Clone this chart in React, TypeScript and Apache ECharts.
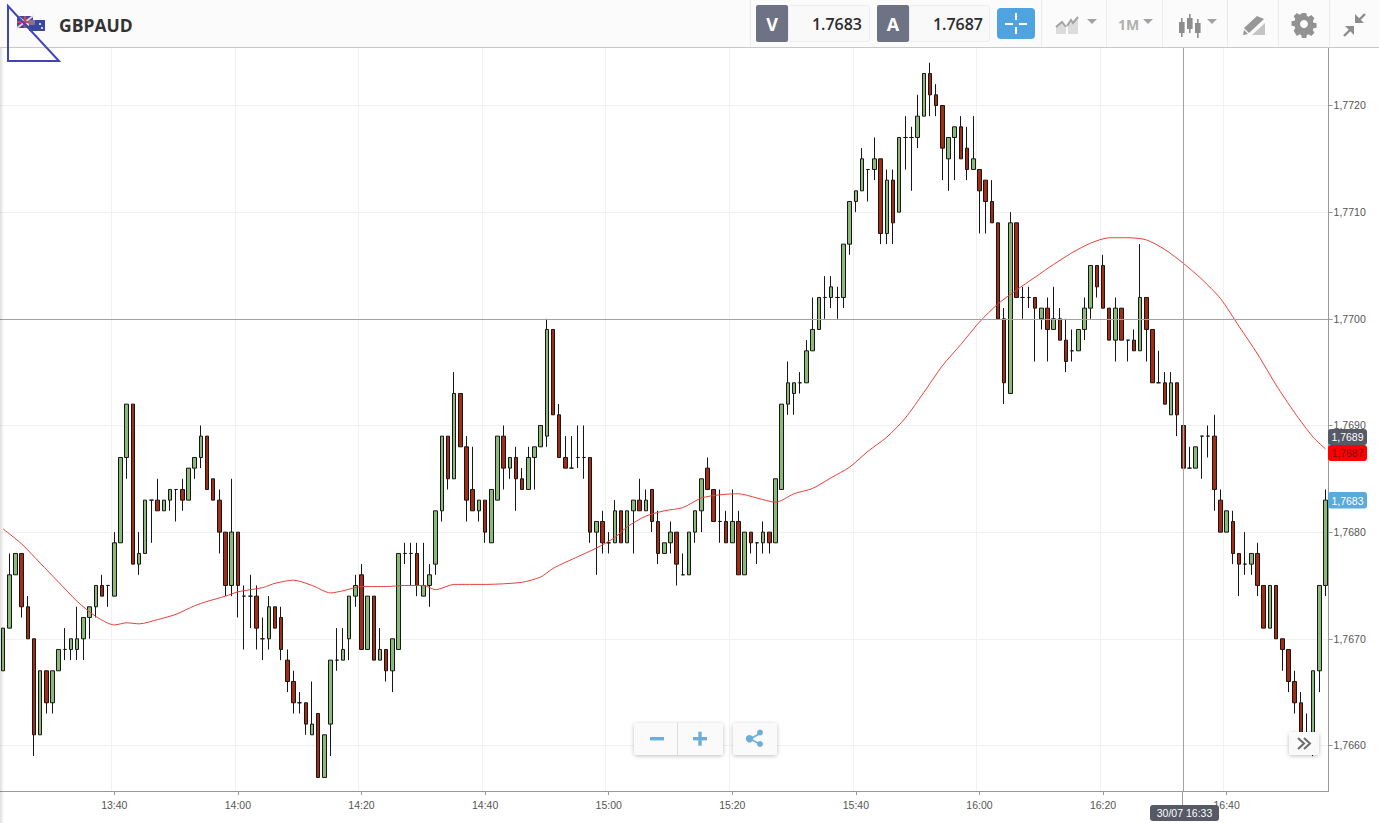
import React, { useEffect, useRef } from "react";
import * as echarts from "echarts";

// First candle of the window is 13:22; one candle a minute.
const firstMinute = 13 * 60 + 22;
const candleCount = 215;
const times: string[] = Array.from({ length: candleCount }, (_, i) => {
  const m = firstMinute + i;
  return `${Math.floor(m / 60)}:${String(m % 60).padStart(2, "0")}`;
});

// [open, close, low, high]
const ohlc: number[][] = [
  [1.7667,1.7671,1.7667,1.7671],[1.7671,1.7676,1.7671,1.7678],[1.7676,1.7678,1.7676,1.7678],[1.7678,1.7673,1.7672,1.7678],[1.7673,1.7670,1.7670,1.7674],
  [1.7670,1.7661,1.7659,1.7670],[1.7661,1.7667,1.7661,1.7667],[1.7667,1.7664,1.7663,1.7667],[1.7664,1.7667,1.7663,1.7667],[1.7667,1.7669,1.7667,1.7669],
  [1.7669,1.7669,1.7668,1.7671],[1.7669,1.7670,1.7668,1.7670],[1.7669,1.7670,1.7668,1.7673],[1.7670,1.7672,1.7668,1.7672],[1.7672,1.7673,1.7670,1.7673],
  [1.7673,1.7675,1.7672,1.7675],[1.7675,1.7674,1.7674,1.7676],[1.7675,1.7675,1.7673,1.7675],[1.7674,1.7679,1.7674,1.7680],[1.7679,1.7687,1.7679,1.7687],
  [1.7687,1.7692,1.7685,1.7692],[1.7692,1.7677,1.7677,1.7692],[1.7677,1.7678,1.7676,1.7680],[1.7678,1.7683,1.7678,1.7683],[1.7683,1.7683,1.7679,1.7683],
  [1.7683,1.7682,1.7682,1.7685],[1.7682,1.7683,1.7682,1.7683],[1.7683,1.7684,1.7682,1.7684],[1.7684,1.7684,1.7681,1.7684],[1.7684,1.7683,1.7682,1.7685],
  [1.7683,1.7686,1.7683,1.7686],[1.7686,1.7687,1.7685,1.7687],[1.7687,1.7689,1.7686,1.7690],[1.7689,1.7684,1.7684,1.7689],[1.7685,1.7683,1.7683,1.7685],
  [1.7683,1.7680,1.7678,1.7684],[1.7680,1.7675,1.7674,1.7680],[1.7675,1.7680,1.7674,1.7685],[1.7680,1.7675,1.7672,1.7680],[1.7674,1.7674,1.7669,1.7675],
  [1.7674,1.7674,1.7671,1.7676],[1.7674,1.7671,1.7669,1.7675],[1.7670,1.7670,1.7668,1.7672],[1.7670,1.7673,1.7669,1.7674],[1.7673,1.7671,1.7671,1.7673],
  [1.7672,1.7669,1.7668,1.7673],[1.7668,1.7666,1.7665,1.7669],[1.7666,1.7664,1.7663,1.7667],[1.7664,1.7664,1.7663,1.7665],[1.7664,1.7662,1.7661,1.7664],
  [1.7661,1.7662,1.7661,1.7666],[1.7663,1.7657,1.7657,1.7663],[1.7657,1.7661,1.7657,1.7661],[1.7662,1.7668,1.7659,1.7668],[1.7668,1.7668,1.7667,1.7671],
  [1.7668,1.7669,1.7668,1.7671],[1.7670,1.7674,1.7668,1.7674],[1.7674,1.7675,1.7673,1.7676],[1.7676,1.7669,1.7669,1.7677],[1.7669,1.7674,1.7669,1.7674],
  [1.7674,1.7668,1.7668,1.7674],[1.7668,1.7669,1.7668,1.7671],[1.7669,1.7667,1.7666,1.7669],[1.7667,1.7670,1.7665,1.7670],[1.7669,1.7678,1.7669,1.7678],
  [1.7678,1.7678,1.7677,1.7679],[1.7678,1.7678,1.7675,1.7679],[1.7678,1.7675,1.7674,1.7679],[1.7674,1.7675,1.7674,1.7679],[1.7675,1.7676,1.7673,1.7677],
  [1.7677,1.7682,1.7676,1.7682],[1.7682,1.7689,1.7681,1.7689],[1.7689,1.7685,1.7684,1.7689],[1.7685,1.7693,1.7685,1.7695],[1.7693,1.7688,1.7688,1.7693],
  [1.7688,1.7683,1.7681,1.7689],[1.7684,1.7682,1.7682,1.7688],[1.7682,1.7683,1.7681,1.7683],[1.7683,1.7680,1.7679,1.7683],[1.7679,1.7684,1.7679,1.7684],
  [1.7683,1.7689,1.7683,1.7689],[1.7689,1.7686,1.7684,1.7690],[1.7686,1.7687,1.7685,1.7687],[1.7687,1.7685,1.7682,1.7688],[1.7685,1.7684,1.7684,1.7686],
  [1.7684,1.7687,1.7684,1.7688],[1.7687,1.7688,1.7684,1.7688],[1.7688,1.7690,1.7688,1.7690],[1.7689,1.7699,1.7688,1.7700],[1.7699,1.7691,1.7691,1.7699],
  [1.7691,1.7687,1.7687,1.7692],[1.7687,1.7686,1.7686,1.7689],[1.7686,1.7686,1.7686,1.7689],[1.7687,1.7687,1.7686,1.7690],[1.7687,1.7687,1.7685,1.7690],
  [1.7687,1.7680,1.7679,1.7687],[1.7680,1.7681,1.7676,1.7681],[1.7681,1.7679,1.7678,1.7682],[1.7679,1.7679,1.7678,1.7680],[1.7679,1.7682,1.7679,1.7683],
  [1.7682,1.7679,1.7679,1.7682],[1.7679,1.7682,1.7679,1.7682],[1.7682,1.7683,1.7678,1.7683],[1.7683,1.7682,1.7682,1.7685],[1.7682,1.7683,1.7682,1.7684],
  [1.7684,1.7681,1.7680,1.7684],[1.7681,1.7678,1.7677,1.7682],[1.7678,1.7679,1.7678,1.7679],[1.7679,1.7680,1.7678,1.7681],[1.7680,1.7677,1.7675,1.7680],
  [1.7676,1.7676,1.7676,1.7678],[1.7676,1.7680,1.7676,1.7680],[1.7680,1.7682,1.7679,1.7682],[1.7682,1.7685,1.7680,1.7685],[1.7686,1.7684,1.7684,1.7687],
  [1.7684,1.7681,1.7681,1.7684],[1.7681,1.7681,1.7679,1.7684],[1.7681,1.7679,1.7679,1.7682],[1.7679,1.7681,1.7679,1.7684],[1.7681,1.7676,1.7676,1.7682],
  [1.7676,1.7680,1.7676,1.7680],[1.7680,1.7679,1.7678,1.7680],[1.7679,1.7679,1.7677,1.7679],[1.7679,1.7680,1.7678,1.7681],[1.7680,1.7679,1.7678,1.7680],
  [1.7679,1.7685,1.7679,1.7685],[1.7684,1.7692,1.7684,1.7692],[1.7692,1.7694,1.7691,1.7696],[1.7693,1.7694,1.7691,1.7694],[1.7694,1.7694,1.7693,1.7695],
  [1.7694,1.7697,1.7694,1.7698],[1.7697,1.7699,1.7697,1.7702],[1.7699,1.7702,1.7699,1.7702],[1.7702,1.7702,1.7700,1.7704],[1.7702,1.7703,1.7701,1.7704],
  [1.7702,1.7702,1.7700,1.7703],[1.7702,1.7707,1.7701,1.7707],[1.7707,1.7711,1.7706,1.7711],[1.7711,1.7712,1.7710,1.7712],[1.7712,1.7715,1.7712,1.7716],
  [1.7714,1.7714,1.7711,1.7714],[1.7714,1.7715,1.7713,1.7717],[1.7715,1.7708,1.7707,1.7715],[1.7708,1.7713,1.7707,1.7714],[1.7713,1.7709,1.7707,1.7714],
  [1.7710,1.7717,1.7710,1.7717],[1.7717,1.7717,1.7714,1.7719],[1.7717,1.7717,1.7712,1.7718],[1.7717,1.7719,1.7716,1.7721],[1.7719,1.7723,1.7719,1.7723],
  [1.7723,1.7721,1.7719,1.7724],[1.7721,1.7720,1.7719,1.7722],[1.7720,1.7716,1.7713,1.7720],[1.7715,1.7717,1.7712,1.7717],[1.7717,1.7718,1.7713,1.7718],
  [1.7718,1.7715,1.7715,1.7719],[1.7716,1.7714,1.7713,1.7718],[1.7714,1.7715,1.7714,1.7719],[1.7714,1.7712,1.7708,1.7714],[1.7713,1.7711,1.7708,1.7713],
  [1.7711,1.7709,1.7709,1.7713],[1.7709,1.7700,1.7700,1.7709],[1.7700,1.7694,1.7692,1.7701],[1.7693,1.7709,1.7693,1.7710],[1.7709,1.7702,1.7702,1.7709],
  [1.7702,1.7702,1.7700,1.7703],[1.7702,1.7702,1.7701,1.7703],[1.7702,1.7701,1.7696,1.7702],[1.7700,1.7701,1.7699,1.7701],[1.7701,1.7699,1.7696,1.7702],
  [1.7699,1.7700,1.7699,1.7703],[1.7700,1.7698,1.7698,1.7701],[1.7698,1.7696,1.7695,1.7700],[1.7697,1.7697,1.7696,1.7699],[1.7697,1.7699,1.7697,1.7699],
  [1.7699,1.7701,1.7698,1.7702],[1.7701,1.7705,1.7700,1.7705],[1.7705,1.7703,1.7702,1.7705],[1.7705,1.7701,1.7701,1.7706],[1.7701,1.7698,1.7698,1.7701],
  [1.7698,1.7701,1.7696,1.7702],[1.7701,1.7698,1.7698,1.7701],[1.7698,1.7698,1.7696,1.7698],[1.7698,1.7697,1.7697,1.7699],[1.7697,1.7702,1.7697,1.7707],
  [1.7702,1.7699,1.7696,1.7702],[1.7699,1.7694,1.7694,1.7699],[1.7694,1.7694,1.7694,1.7697],[1.7694,1.7692,1.7692,1.7695],[1.7691,1.7694,1.7691,1.7695],
  [1.7694,1.7691,1.7689,1.7694],[1.7690,1.7686,1.7685,1.7691],[1.7686,1.7686,1.7686,1.7688],[1.7686,1.7688,1.7686,1.7688],[1.7689,1.7689,1.7685,1.7689],
  [1.7689,1.7689,1.7687,1.7690],[1.7689,1.7684,1.7682,1.7691],[1.7683,1.7680,1.7680,1.7684],[1.7680,1.7682,1.7680,1.7682],[1.7681,1.7678,1.7677,1.7682],
  [1.7678,1.7677,1.7674,1.7678],[1.7677,1.7677,1.7676,1.7680],[1.7677,1.7678,1.7676,1.7678],[1.7678,1.7675,1.7674,1.7679],[1.7675,1.7671,1.7671,1.7675],
  [1.7671,1.7675,1.7671,1.7675],[1.7675,1.7670,1.7670,1.7675],[1.7670,1.7669,1.7667,1.7670],[1.7669,1.7666,1.7665,1.7669],[1.7666,1.7664,1.7663,1.7667],
  [1.7664,1.7661,1.7661,1.7665],[1.7661,1.7661,1.7660,1.7663],[1.7661,1.7667,1.7659,1.7667],[1.7667,1.7675,1.7665,1.7675],[1.7675,1.7683,1.7674,1.7684],
];

// Moving average: [candle index, price].
const movingAverage: number[][] = [
  [0,1.76803],[3,1.76789],[6,1.76771],[9,1.76753],[12,1.76735],[15,1.76721],[18,1.76713],[20,1.76715],[22,1.76714],
  [25,1.76718],[28,1.76723],[31,1.76731],[33,1.76735],[36,1.76740],[38,1.76744],[42,1.76748],[44,1.76752],[47,1.76755],
  [50,1.76750],[53,1.76743],[55,1.76745],[58,1.76749],[62,1.76749],[65,1.76750],[68,1.76750],[70,1.76746],[73,1.76751],
  [78,1.76751],[84,1.76753],[87,1.76758],[89,1.76766],[93,1.76777],[96,1.76785],[99,1.76795],[101,1.76805],[104,1.76815],
  [107,1.76820],[110,1.76823],[113,1.76832],[116,1.76835],[119,1.76836],[122,1.76832],[125,1.76828],[128,1.76836],[131,1.76841],
  [134,1.76851],[137,1.76861],[140,1.76876],[143,1.76889],[146,1.76907],[149,1.76931],[152,1.76956],[155,1.76976],[158,1.76997],
  [161,1.77014],[164,1.77027],[167,1.77039],[170,1.77051],[173,1.77062],[176,1.77071],[179,1.77076],[182,1.77076],[185,1.77074],
  [188,1.77065],[191,1.77052],[194,1.77037],[197,1.77019],[200,1.76993],[203,1.76967],[206,1.76938],[209,1.76912],[212,1.76889],[214,1.76878],
];

const priceTicks = [1.766, 1.767, 1.768, 1.769, 1.77, 1.771, 1.772];
const crosshairTime = "16:33";
const crosshairPrice = 1.7689;
const crosshairDate = "30/07 16:33";
const instrument = "GBPAUD";
const bidLabel = "V";
const askLabel = "A";
const bidPrice = "1.7683";
const askPrice = "1.7687";
const frameLabel = "1M";
const tagCross = "1,7689";
const tagMa = "1,7687";
const tagLast = "1,7683";

const isLabelMinute = (i: number) => (firstMinute + i) % 20 === 0;
const FONT = '"Liberation Sans", Arial, sans-serif';
const OPEN = '"Open Sans", sans-serif';
const Z = 100;
const ICON = "#a3a3a3";

echarts.graphic.registerShape(
  "gearIcon",
  echarts.graphic.extendPath(
    "M9.6 0h4.8l.7 3.3 1.9.8 2.9-1.8 3.4 3.4-1.8 2.9.8 1.9 3.3.7v4.8l-3.3.7-.8 1.9 1.8 2.9-3.4 3.4-2.9-1.8-1.9.8-.7 3.3H9.6l-.7-3.3-1.9-.8-2.9 1.8L.7 19.3l1.8-2.9-.8-1.9-3.3-.7V9l3.3-.7.8-1.9L.7 3.5 4.1.1 7 1.9l1.9-.8z",
    {}
  )
);

function rect(x: number, y: number, w: number, h: number, fill: string, extra: any = {}) {
  const { r, stroke, lineWidth, ...style } = extra;
  return {
    type: "rect", z: Z, silent: true,
    shape: { x, y, width: w, height: h, r: r || 0 },
    style: { fill, stroke, lineWidth, ...style },
  };
}
function poly(points: number[][], fill: string) {
  return { type: "polygon", z: Z, silent: true, shape: { points }, style: { fill } };
}
function pline(points: number[][], stroke: string, lineWidth = 1) {
  return { type: "polyline", z: Z, silent: true, shape: { points }, style: { stroke, lineWidth, fill: "none" } };
}
function txt(x: number, y: number, text: string, fill: string, fontSize: number, extra: any = {}) {
  return {
    type: "text", z: Z + 1, silent: true, x, y,
    style: { text, fill, fontSize, fontFamily: FONT, align: "center", verticalAlign: "middle", ...extra },
  };
}

function overlays() {
  const g: any[] = [];
  // soft shadow down the left edge
  g.push(rect(0, 0, 4, 823, "none", {
    fill: { type: "linear", x: 0, y: 0, x2: 1, y2: 0, colorStops: [{ offset: 0, color: "rgba(0,0,0,0.13)" }, { offset: 1, color: "rgba(0,0,0,0)" }] },
  }));
  // toolbar
  g.push(rect(0, 0, 1379, 47.5, "#fbfbfb"));
  g.push(pline([[0, 47.5], [1379, 47.5]], "#c9c9c9"));
  for (const x of [750.5, 1041.5, 1106.5, 1162.5, 1227.5, 1278.5, 1329.5]) {
    g.push(pline([[x, 0], [x, 47]], "#ececec"));
  }
  // flags
  g.push(rect(17, 16, 16, 12, "#3b4a94"));
  g.push(pline([[17, 16], [33, 28]], "#e8d0d8", 2));
  g.push(pline([[33, 16], [17, 28]], "#e8d0d8", 2));
  g.push(pline([[25, 16], [25, 28]], "#c9455a", 2.5));
  g.push(pline([[17, 22], [33, 22]], "#c9455a", 2));
  g.push(rect(29, 20, 16, 11, "#38499c"));
  g.push(rect(29, 20, 6, 5, "#8f6f90"));
  g.push(rect(39, 23, 2, 2, "#cfd4ee"));
  g.push(rect(41, 27, 2, 2, "#cfd4ee"));
  g.push(txt(59, 24.5, instrument, "#333333", 17.5, { fontFamily: OPEN, fontWeight: 700, align: "left" }));
  // hand drawn triangle
  g.push({ type: "polygon", z: Z + 2, silent: true, shape: { points: [[8, 6], [8, 61], [59, 61]] }, style: { fill: "none", stroke: "#3f46b4", lineWidth: 2 } });

  // bid / ask boxes
  g.push(rect(788.5, 5.5, 81, 36, "#f9f9f9", { stroke: "#eeeeee", lineWidth: 1, r: 2 }));
  g.push(rect(756, 5, 32, 37, "#6e7285", { r: 2 }));
  g.push(txt(772, 24, bidLabel, "#ffffff", 18, { fontFamily: OPEN, fontWeight: 700 }));
  g.push(txt(862, 24, bidPrice, "#2b2b2b", 16, { fontFamily: OPEN, fontWeight: 600, align: "right" }));
  g.push(rect(909.5, 5.5, 80, 36, "#f9f9f9", { stroke: "#eeeeee", lineWidth: 1, r: 2 }));
  g.push(rect(877, 5, 32, 37, "#6e7285", { r: 2 }));
  g.push(txt(893, 24, askLabel, "#ffffff", 18, { fontFamily: OPEN, fontWeight: 700 }));
  g.push(txt(983, 24, askPrice, "#2b2b2b", 16, { fontFamily: OPEN, fontWeight: 600, align: "right" }));
  // crosshair button
  g.push(rect(997, 8, 38, 31, "#4ea3e0", { r: 4 }));
  g.push(rect(1015, 13, 2, 7, "#ffffff"));
  g.push(rect(1015, 27, 2, 7, "#ffffff"));
  g.push(rect(1005, 23, 8, 2, "#ffffff"));
  g.push(rect(1019, 23, 8, 2, "#ffffff"));
  // chart type icon
  g.push(poly([[1056, 34], [1056, 27], [1062, 23], [1066, 28], [1066, 34]], "#dcdcdc"));
  g.push(poly([[1068, 34], [1068, 24], [1078, 19], [1078, 34]], "#dcdcdc"));
  g.push(pline([[1056, 27], [1062, 22], [1066, 27]], ICON, 2));
  g.push(pline([[1067, 26], [1071, 20], [1073, 23], [1078, 17]], ICON, 2));
  g.push(poly([[1087, 19], [1097, 19], [1092, 24]], ICON));
  g.push(txt(1118, 24, frameLabel, "#b0b0b0", 14, { fontFamily: OPEN, fontWeight: 700, align: "left" }));
  g.push(poly([[1143, 19], [1153, 19], [1148, 24]], ICON));
  // candle icon
  for (const [x, y1, y2, b1, b2] of [[1181, 18, 37, 22, 33], [1189, 14, 33, 18, 29], [1197, 19, 38, 23, 33]]) {
    g.push(rect(x, y1, 1.6, y2 - y1, "#8d8d8d"));
    g.push(rect(x - 2, b1, 5.6, b2 - b1, "#8d8d8d"));
  }
  g.push(poly([[1207, 19], [1217, 19], [1212, 24]], ICON));
  // pencil icon
  g.push(poly([[1244, 28], [1257, 16], [1264, 19], [1249, 33]], "#979797"));
  g.push(poly([[1244, 30], [1248, 34], [1243, 35]], "#979797"));
  g.push(poly([[1252, 35], [1265, 23], [1265, 35]], "#c4c4c4"));
  // gear
  g.push({ type: "gearIcon", z: Z, silent: true, x: 1293, y: 13, scaleX: 0.92, scaleY: 0.92, style: { fill: "#929292" } });
  g.push({ type: "circle", z: Z + 1, silent: true, shape: { cx: 1304, cy: 24, r: 4 }, style: { fill: "#fbfbfb" } });
  // compress icon
  g.push(pline([[1344, 36], [1351, 29]], "#8d8d8d", 2.4));
  g.push(poly([[1345, 26], [1354, 26], [1354, 35]], "#8d8d8d"));
  g.push(pline([[1365, 14], [1358, 21]], "#8d8d8d", 2.4));
  g.push(poly([[1355, 14], [1355, 23], [1364, 23]], "#8d8d8d"));

  // zoom and share buttons
  const shadow = { shadowBlur: 4, shadowColor: "rgba(0,0,0,0.25)", shadowOffsetY: 1 };
  g.push(rect(634, 723, 89, 32, "#fafafa", { r: 3, ...shadow }));
  g.push(pline([[677.5, 723], [677.5, 755]], "#dddddd"));
  g.push(rect(650, 737, 14, 3.4, "#6caed8"));
  g.push(rect(693, 737, 14, 3.4, "#6caed8"));
  g.push(rect(698.3, 731.7, 3.4, 14, "#6caed8"));
  g.push(rect(733, 723, 44, 32, "#fafafa", { r: 3, ...shadow }));
  g.push(pline([[750, 739], [760, 733.5]], "#6caed8", 1.8));
  g.push(pline([[750, 739], [760, 744]], "#6caed8", 1.8));
  for (const [cx, cy, r] of [[749.5, 738.7, 3.7], [760, 732.5, 3], [760, 744, 3]]) {
    g.push({ type: "circle", z: Z, silent: true, shape: { cx, cy, r }, style: { fill: "#6caed8" } });
  }
  // expand button
  g.push(rect(1289, 732, 30, 23, "#fafafa", { r: 3, ...shadow }));
  g.push(pline([[1298, 738], [1304, 743.5], [1298, 749]], "#6b6b6b", 2));
  g.push(pline([[1304, 738], [1310, 743.5], [1304, 749]], "#6b6b6b", 2));

  // price tags
  g.push(rect(1328, 429, 39, 16, "#555a66", { r: 3 }));
  g.push(txt(1347.5, 437.3, tagCross, "#ffffff", 10.5));
  g.push(rect(1328, 445, 39, 16, "#ff0000", { r: 3 }));
  g.push(txt(1347.5, 453.3, tagMa, "#7a1010", 10.5));
  g.push(rect(1328, 492, 39, 16.5, "#5aaadc", { r: 3 }));
  g.push(txt(1347.5, 500.5, tagLast, "#ffffff", 10.5));
  // crosshair date tag
  g.push(pline([[1182.5, 791], [1182.5, 805]], "#999999"));
  g.push(rect(1150, 805, 69, 16, "#555a66", { r: 3 }));
  g.push(txt(1184.5, 813.3, crosshairDate, "#ffffff", 10.5));
  return g;
}

export default function App() {
  const ref = useRef<HTMLDivElement>(null);
  useEffect(() => {
    document.body.style.margin = "0";
    document.documentElement.style.overflow = "hidden";
    const chart = echarts.init(ref.current!, undefined, { renderer: "svg" });
    const grid = { left: -5, top: 48, width: 1333.6, height: 743 };
    chart.setOption({
      animation: false,
      backgroundColor: "#ffffff",
      grid,
      xAxis: {
        type: "category",
        data: times,
        boundaryGap: true,
        axisLine: { lineStyle: { color: "#999999", width: 1 } },
        axisTick: { show: true, alignWithLabel: true, length: 4, lineStyle: { color: "#999999" }, interval: (i: number) => isLabelMinute(i) },
        axisLabel: { interval: (i: number) => isLabelMinute(i), color: "#555555", fontSize: 10.5, fontFamily: FONT, margin: 8, hideOverlap: false },
        splitLine: { show: true, interval: (i: number) => isLabelMinute(i), lineStyle: { color: "#f1f1f1", width: 1 } },
      },
      yAxis: {
        type: "value",
        position: "right",
        min: 1.765573,
        max: 1.772539,
        scale: true,
        axisLine: { show: true, lineStyle: { color: "#999999", width: 1 } },
        axisTick: { show: true, length: 4, lineStyle: { color: "#999999" }, customValues: priceTicks },
        axisLabel: {
          color: "#555555", fontSize: 10.5, fontFamily: FONT, margin: 5,
          customValues: priceTicks,
          showMinLabel: true, showMaxLabel: true,
          formatter: (v: number) => v.toFixed(4).replace(".", ","),
        },
        splitLine: { show: true, lineStyle: { color: "#f1f1f1", width: 1 } },
      },
      series: [
        {
          type: "candlestick",
          data: ohlc,
          barWidth: 4,
          clip: true,
          itemStyle: {
            color: "#8bb97a",
            color0: "#a32c14",
            borderColor: "#161616",
            borderColor0: "#161616",
            borderColorDoji: "#161616",
            borderWidth: 1,
          },
          markLine: {
            silent: true,
            symbol: "none",
            animation: false,
            label: { show: false },
            lineStyle: { color: "#a3a3a3", width: 1, type: "solid" },
            data: [{ xAxis: crosshairTime }, { yAxis: crosshairPrice }],
          },
        },
        {
          type: "line",
          data: movingAverage,
          showSymbol: false,
          smooth: 0.25,
          clip: true,
          lineStyle: { color: "#e8403a", width: 1 },
        },
      ],
      graphic: { elements: overlays() },
    });
    return () => chart.dispose();
  }, []);
  return <div ref={ref} style={{ width: 1379, height: 823 }} />;
}
